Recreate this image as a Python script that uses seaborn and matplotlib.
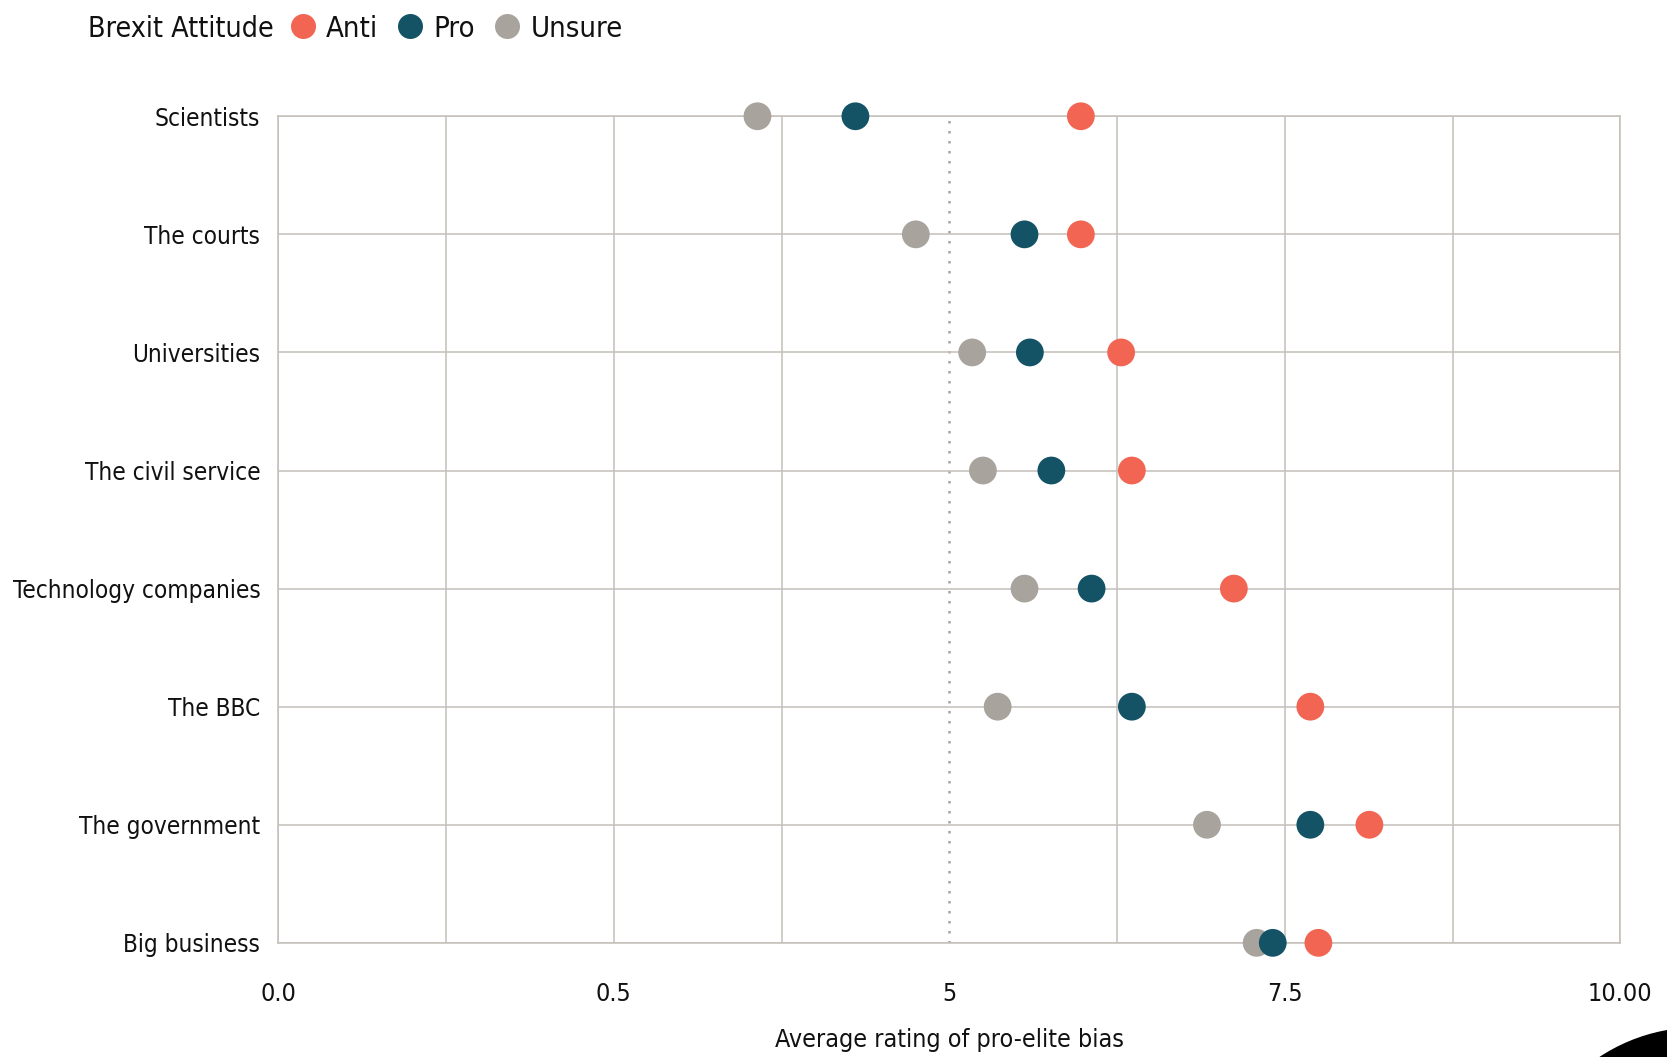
import matplotlib

matplotlib.use("Agg")
import matplotlib.pyplot as plt
import pandas as pd
import seaborn as sns
from matplotlib.lines import Line2D
from matplotlib.patches import Circle

institutions = [
    "Scientists",
    "The courts",
    "Universities",
    "The civil service",
    "Technology companies",
    "The BBC",
    "The government",
    "Big business",
]
anti = [5.98, 5.98, 6.28, 6.36, 7.12, 7.69, 8.13, 7.75]
pro = [4.30, 5.56, 5.60, 5.76, 6.06, 6.36, 7.69, 7.41]
unsure = [3.57, 4.75, 5.17, 5.25, 5.56, 5.36, 6.92, 7.29]

legend_order = ["Anti", "Pro", "Unsure"]
palette = {"Anti": "#F26552", "Pro": "#145366", "Unsure": "#A8A39D"}
tick_values = [0, 2.5, 5, 7.5, 10]
tick_labels = ["0.0", "0.5", "5", "7.5", "10.00"]
minor_values = [1.25, 3.75, 6.25, 8.75]

# drawing order: grey first so teal sits on top where they overlap
frames = []
for name, vals in [("Unsure", unsure), ("Pro", pro), ("Anti", anti)]:
    frames.append(pd.DataFrame({"institution": institutions, "rating": vals, "attitude": name}))
df = pd.concat(frames, ignore_index=True)

sns.set_theme(style="white")
plt.rcParams["font.family"] = ["DejaVu Sans"]
plt.rcParams["font.stretch"] = "condensed"
plt.rcParams["text.color"] = "#111111"

grid_color = "#C4BFB9"

fig = plt.figure(figsize=(16.67, 10.57), dpi=100)
ax = fig.add_axes([0.167, 0.108, 0.805, 0.782])

sns.scatterplot(
    data=df,
    x="rating",
    y="institution",
    hue="attitude",
    palette=palette,
    s=400,
    linewidth=0,
    legend=False,
    clip_on=False,
    zorder=3,
    ax=ax,
)

ax.set_xlim(0, 10)
ax.set_ylim(len(institutions) - 1, 0)
ax.set_xticks(tick_values, tick_labels)
ax.set_xticks(minor_values, minor=True)
ax.set_axisbelow(True)
ax.grid(axis="both", which="major", color=grid_color, linewidth=1.1)
ax.grid(axis="x", which="minor", color=grid_color, linewidth=1.1)
ax.get_xgridlines()[2].set(linestyle=(0, (1, 3)), color="#A8A39D", linewidth=1.8)
for sp in ax.spines.values():
    sp.set_color(grid_color)
    sp.set_linewidth(1.1)

ax.tick_params(axis="x", which="both", length=0, pad=28, labelsize=18, colors="#111111")
ax.tick_params(axis="y", length=0, pad=13, labelsize=17.5, colors="#111111")
for lbl in ax.get_yticklabels():
    lbl.set_verticalalignment("center_baseline")
ax.set_ylabel("")
ax.set_xlabel("Average rating of pro-elite bias", fontsize=18, labelpad=16, color="#111111")

# legend row at the top
fig.text(88 / 1667, 0.973, "Brexit Attitude", fontsize=20.5, va="center")
handles = [
    Line2D([], [], marker="o", linestyle="", markersize=18, markerfacecolor=palette[k],
           markeredgewidth=0)
    for k in legend_order
]
fig.legend(
    handles,
    legend_order,
    loc="center left",
    bbox_to_anchor=(288 / 1667, 0.973),
    ncol=3,
    frameon=False,
    fontsize=21,
    handlelength=1.0,
    handletextpad=0.3,
    columnspacing=0.6,
    borderaxespad=0,
    borderpad=0,
)

# black corner mark
fig.add_artist(Circle((16.98, -1.49), 1.78, transform=fig.dpi_scale_trans, color="black"))

fig.savefig("out.png", dpi=100)
plt.close(fig)
